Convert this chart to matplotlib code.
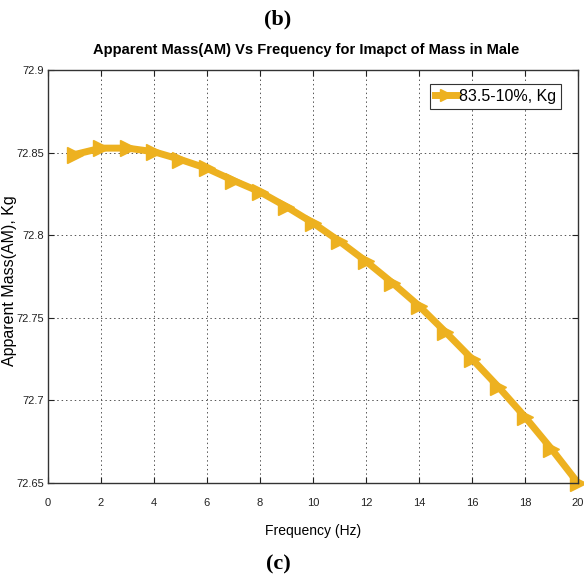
import matplotlib
matplotlib.use('Agg')
import matplotlib.pyplot as plt
import numpy as np

# data
freq = [1, 2, 3, 4, 5, 6, 7, 8, 9, 10, 11, 12, 13, 14, 15, 16, 17, 18, 19, 20]
am = [72.8488, 72.8527, 72.8527, 72.8505, 72.8458, 72.8404, 72.8331, 72.8262, 72.8172,
      72.8074, 72.7963, 72.7842, 72.7711, 72.7572, 72.7414, 72.7251, 72.7081, 72.6900,
      72.6706, 72.6500]
xticks = [0, 2, 4, 6, 8, 10, 12, 14, 16, 18, 20]
yticks = [72.65, 72.7, 72.75, 72.8, 72.85, 72.9]
ytick_labels = ['72.65', '72.7', '72.75', '72.8', '72.85', '72.9']

sans = ['Liberation Sans', 'DejaVu Sans']
serif = ['Liberation Serif', 'DejaVu Serif']
plt.rcParams['font.family'] = sans

fig = plt.figure(figsize=(5.84, 5.78), dpi=100)
ax = fig.add_axes([0.0822, 0.1644, 0.9075, 0.7145])

line_col = '#EDB120'
ax.plot(freq, am, color=line_col, lw=5, marker='>', ms=11, mec=line_col,
        mfc=line_col, label='83.5-10%, Kg', clip_on=False)

ax.set_xlim(0, 20)
ax.set_ylim(72.65, 72.9)
ax.set_xticks(xticks)
ax.set_yticks(yticks)
ax.set_yticklabels(ytick_labels)
ax.tick_params(direction='in', top=True, right=True, length=4, width=0.8, labelsize=8,
               colors='#222222')
ax.tick_params(axis='x', pad=11)
ax.tick_params(axis='y', pad=3)
ax.grid(True, linestyle=(0, (1.5, 3)), color='#555555', lw=0.7)
for s in ax.spines.values():
    s.set_color('#333333')
    s.set_linewidth(1.0)

ax.set_xlabel('Frequency (Hz)', fontsize=10)
ax.xaxis.set_label_coords(0.5, -0.099)
ax.set_ylabel('Apparent Mass(AM), Kg', fontsize=11.5)
ax.yaxis.set_label_coords(-0.059, 0.49)

fig.text(0.524, 0.913, 'Apparent Mass(AM) Vs Frequency for Imapct of Mass in Male',
         ha='center', va='center', fontsize=10.5, fontweight='bold')
fig.text(0.476, 0.967, '(b)', ha='center', va='center', fontsize=16, fontweight='bold',
         family=serif)
fig.text(0.476, 0.024, '(c)', ha='center', va='center', fontsize=16, fontweight='bold',
         family=serif)

leg = ax.legend(loc='upper right', fancybox=False, framealpha=1, edgecolor='#333333',
                prop={'size': 11.5}, handlelength=1.4, handletextpad=0.1,
                borderpad=0.3, markerscale=0.75, bbox_to_anchor=(0.983, 0.985))
leg.get_frame().set_linewidth(0.8)

fig.savefig('out.png', dpi=100)
